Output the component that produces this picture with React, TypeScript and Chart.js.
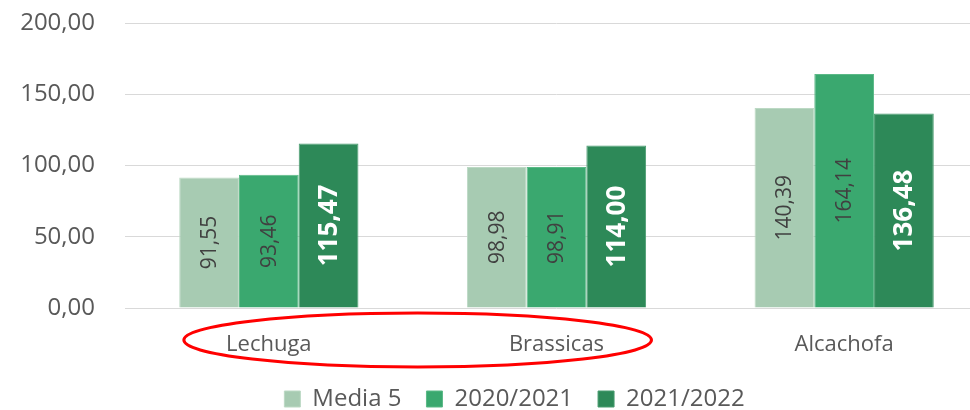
import React, { useEffect, useRef } from "react";
import { Chart, registerables } from "chart.js";

Chart.register(...registerables);

const categories = ["Lechuga", "Brassicas", "Alcachofa"];
const seriesNames = ["Media 5", "2020/2021", "2021/2022"];
const media5 = [91.55, 98.98, 140.39];
const campaign2021 = [93.46, 98.91, 164.14];
const campaign2022 = [115.47, 114.0, 136.48];
const yTicks = [0, 50, 100, 150, 200];

const fillColors = ["#A7CBB2", "#3AA86F", "#2D8958"];
const edgeColors = ["#BCD9C4", "#5BB987", "#4A9C70"];
const FONT = "'Open Sans', 'Noto Sans', sans-serif";

const fmt = (v: number) => v.toFixed(2).replace(".", ",");

const valueLabels = {
  id: "valueLabels",
  afterDatasetsDraw(chart: any) {
    const ctx = chart.ctx;
    chart.data.datasets.forEach((ds: any, di: number) => {
      const meta = chart.getDatasetMeta(di);
      meta.data.forEach((bar: any, i: number) => {
        const v = ds.data[i];
        const cy = (bar.y + bar.base) / 2;
        ctx.save();
        ctx.translate(bar.x, cy);
        ctx.rotate(-Math.PI / 2);
        ctx.textAlign = "center";
        ctx.textBaseline = "middle";
        if (di === 2) {
          ctx.fillStyle = "#FFFFFF";
          ctx.font = `bold 26px ${FONT}`;
        } else {
          ctx.fillStyle = "#404040";
          ctx.font = `21px ${FONT}`;
        }
        ctx.fillText(fmt(v), 0, 1);
        ctx.restore();
      });
    });
  },
};

const ellipseMark = {
  id: "ellipseMark",
  afterDraw(chart: any) {
    const xs = chart.scales.x;
    const x0 = xs.getPixelForValue(0);
    const x1 = xs.getPixelForValue(1);
    const cx = (x0 + x1) / 2 + 5;
    const rx = (x1 - x0) / 2 + 90;
    const cy = chart.chartArea.bottom + 32;
    const ry = 27;
    const ctx = chart.ctx;
    ctx.save();
    ctx.beginPath();
    ctx.ellipse(cx, cy, rx, ry, 0, 0, Math.PI * 2);
    ctx.strokeStyle = "#FF0000";
    ctx.lineWidth = 3;
    ctx.stroke();
    ctx.restore();
  },
};

// shift the legend box so that its items sit where the original places them
const legendShift = {
  id: "legendShift",
  afterLayout(chart: any) {
    const lg = chart.legend;
    if (!lg) return;
    const shift = 41;
    lg.left += shift;
    lg.width -= shift;
  },
};

export default function App() {
  const ref = useRef<HTMLCanvasElement | null>(null);

  useEffect(() => {
    if (!ref.current) return;
    const seriesData = [media5, campaign2021, campaign2022];
    const chart = new Chart(ref.current, {
      type: "bar",
      data: {
        labels: categories,
        datasets: seriesNames.map((name, i) => ({
          label: name,
          data: seriesData[i],
          backgroundColor: fillColors[i],
          borderColor: edgeColors[i],
          borderWidth: 1,
          categoryPercentage: 0.623,
          barPercentage: 1,
        })),
      },
      options: {
        responsive: false,
        animation: false,
        devicePixelRatio: 1,
        layout: { padding: { top: 23, left: 0, right: 2, bottom: 1 } },
        plugins: {
          legend: {
            position: "bottom",
            labels: {
              boxWidth: 16,
              boxHeight: 16,
              padding: 25,
              color: "#595959",
              font: { family: FONT, size: 24 },
            },
          },
          tooltip: { enabled: false },
        },
        scales: {
          x: {
            grid: { display: false, drawTicks: false },
            border: { display: false },
            ticks: {
              color: "#595959",
              font: { family: FONT, size: 22 },
              padding: 24,
            },
            afterFit(scale: any) {
              scale.height = 54;
            },
          },
          y: {
            min: 0,
            max: 200,
            afterBuildTicks(scale: any) {
              scale.ticks = yTicks.map((v) => ({ value: v }));
            },
            grid: {
              color: "#D9D9D9",
              lineWidth: 1,
              drawTicks: true,
              tickLength: 30,
              tickColor: "rgba(0,0,0,0)",
            },
            border: { display: false },
            ticks: {
              color: "#595959",
              font: { family: FONT, size: 24 },
              padding: 0,
              callback: (v: any) => fmt(Number(v)),
            },
            afterFit(scale: any) {
              scale.width = 125;
            },
          },
        },
      },
      plugins: [valueLabels, ellipseMark, legendShift],
    });
    return () => chart.destroy();
  }, []);

  return (
    <div
      style={{
        position: "fixed",
        left: 0,
        top: 0,
        width: 970,
        height: 410,
        overflow: "hidden",
        background: "#FFFFFF",
      }}
    >
      <canvas ref={ref} width={990} height={422} style={{ display: "block" }} />
    </div>
  );
}
